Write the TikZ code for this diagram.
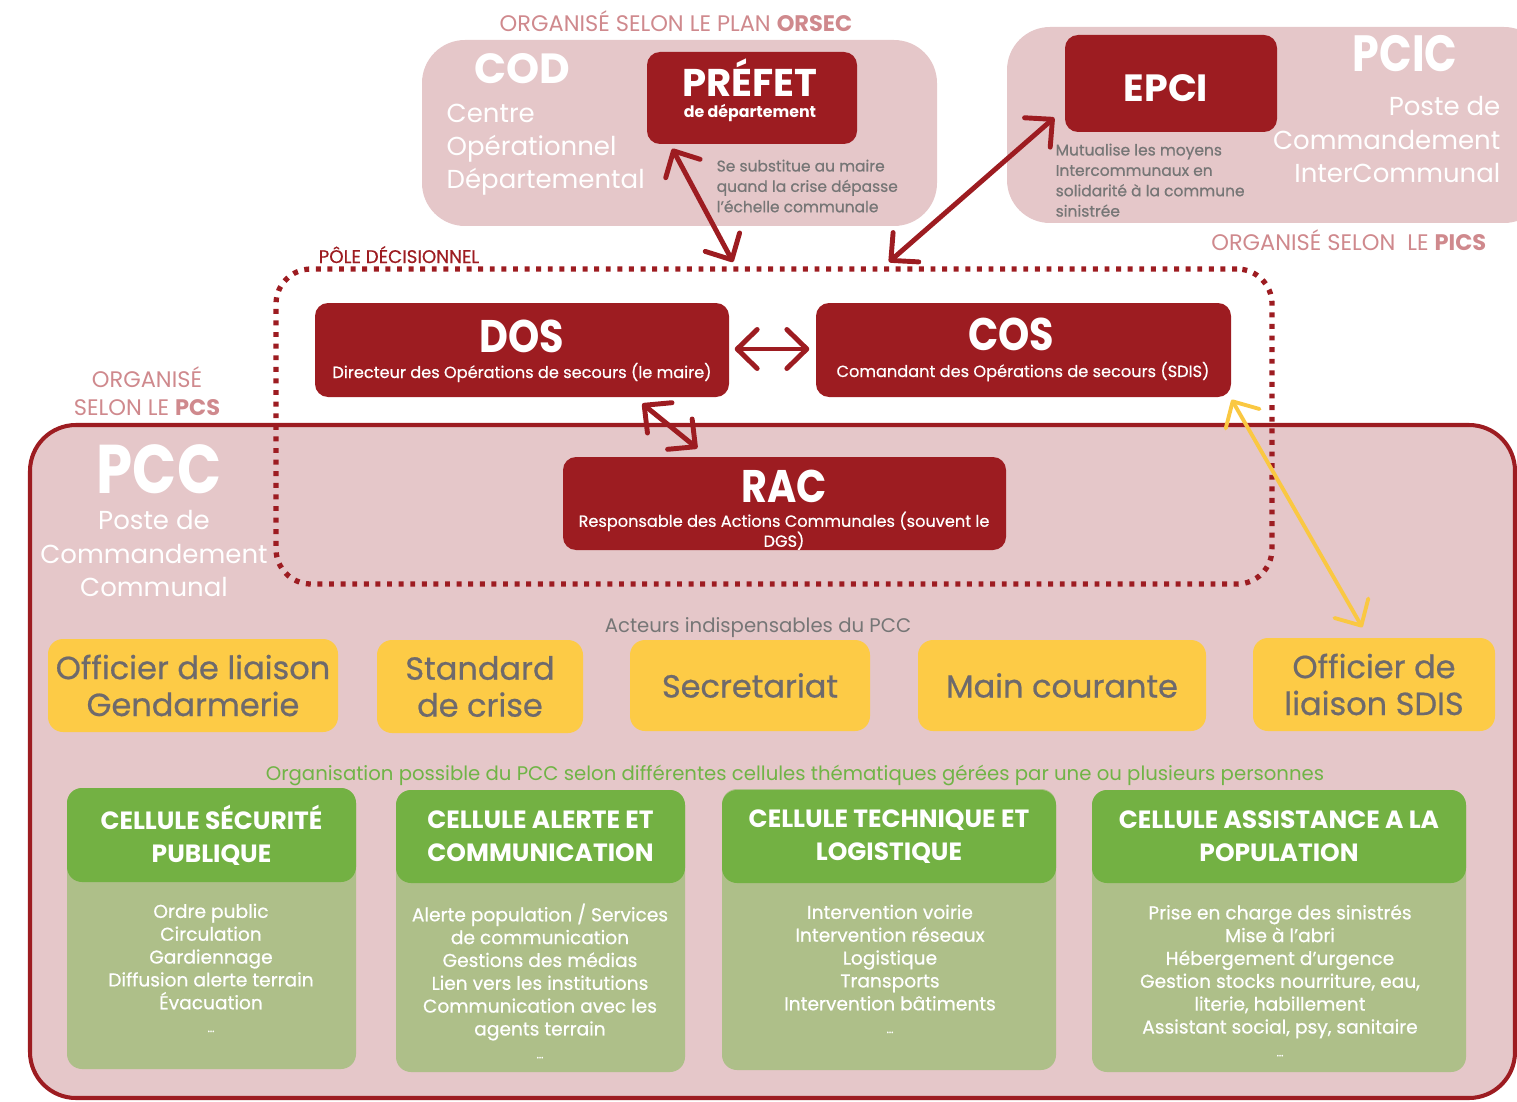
\documentclass[tikz,border=0pt]{standalone}
\usepackage{fontspec}
\setmainfont{Poppins}
\newfontfamily\tallfont[FakeStretch=0.84]{Poppins}
\newfontfamily\narrowfont[FakeStretch=0.87]{Poppins}
\newfontfamily\medfont[FakeBold=0.6]{Poppins}
\usepackage{tikz}
\usetikzlibrary{positioning,calc,arrows.meta}
\definecolor{PCSRed}{RGB}{157,28,33}
\definecolor{PCSPink}{RGB}{229,199,201}
\definecolor{TitlePink}{RGB}{207,137,141}
\definecolor{NoteGray}{RGB}{118,118,118}
\definecolor{CrisisYellow}{RGB}{253,203,70}
\definecolor{YellowText}{RGB}{110,106,108}
\definecolor{ArrowYellow}{RGB}{250,200,66}
\definecolor{CellGreen}{RGB}{115,177,67}
\definecolor{CellOlive}{RGB}{174,191,137}
\definecolor{TextGreen}{RGB}{112,180,70}
\newcommand{\setfs}[2]{\fontsize{#1}{#2}\selectfont}
\tikzset{
    zonebox/.style={rectangle, rounded corners=4.3mm, fill=PCSPink, inner sep=0pt},
    redbox/.style={rectangle, rounded corners=1.3mm, fill=PCSRed, text=white, inner sep=0pt},
    actorbox/.style={rectangle, rounded corners=1.5mm, fill=CrisisYellow, text=YellowText, align=center, inner sep=0pt, font=\medfont\setfs{9.1pt}{10.5pt}},
    cellbody/.style={rectangle, rounded corners=1.5mm, fill=CellOlive, inner sep=0pt},
    cellhead/.style={rectangle, rounded corners=1.5mm, fill=CellGreen, text=white, align=center, inner sep=0pt, font=\bfseries\setfs{7.1pt}{9.4pt}},
    link/.style={draw=PCSRed, line width=1.4pt, >={Straight Barb[round,length=2mm,width=3.9mm]}, <->}
}

\begin{document}
\begin{tikzpicture}[x=0.1mm, y=-0.1mm,
        % Textes posés sur leur ligne de base
        lbl/.style={inner sep=0pt, anchor=base},
        zonetag/.style={lbl, text=TitlePink, font=\setfs{6.4pt}{8pt}},
        zonetext/.style={inner sep=0pt, text=white, font=\setfs{7.4pt}{9.5pt}},
        notetext/.style={inner sep=0pt, text=NoteGray, font=\medfont\setfs{4.4pt}{5.8pt}},
        bigtag/.style={lbl, text=white, font=\narrowfont\bfseries\setfs{13pt}{13pt}},
        smalltag/.style={lbl, text=white, font=\medfont\setfs{4.6pt}{5.7pt}},
        celltext/.style={anchor=north, align=center, inner sep=0pt, text=white, font=\medfont\setfs{5.3pt}{6.5pt}}
    ]
    \useasboundingbox (0,0) rectangle (1517,1102);
    \clip (0,0) rectangle (1517,1102);

    % --- ZONES (COD, PCIC, PCC, pôle décisionnel) ---
    \node[zonebox, minimum width=51.5mm, minimum height=18.6mm] (cod) at (679.5,133) {};
    \node[zonebox, minimum width=54mm, minimum height=19.6mm] (pcic) at (1277,125) {};
    \node[zonebox, draw=PCSRed, line width=1.15pt, rounded corners=4.6mm,
          minimum width=148.5mm, minimum height=67.3mm] (pcc) at (772.5,761.5) {};
    \node[draw=PCSRed, line width=1.5pt, dash pattern=on 1.4pt off 1.9pt, rounded corners=3.5mm,
          minimum width=99.6mm, minimum height=31.5mm, inner sep=0pt] (pole) at (774,426.5) {};

    % --- COD + PRÉFET ---
    \node[zonetag] (orsec) at (676,32) {ORGANISÉ SELON LE PLAN \textbf{ORSEC}};
    \node[lbl, text=white, font=\bfseries\setfs{12pt}{12pt}] (codT) at (522,84) {COD};
    \node[zonetext, anchor=north west, align=left] (codS) at (446,103) {Centre\\Opérationnel\\Départemental};
    \node[redbox, minimum width=21mm, minimum height=9.2mm] (prefet) at (752,98) {};
    \node[lbl, text=white, font=\bfseries\setfs{11pt}{11pt}] (prefetT) at (750,97) {PRÉFET};
    \node[lbl, text=white, font=\bfseries\setfs{4.5pt}{5pt}] (prefetS) at (750,118) {de département};
    \node[notetext, anchor=north west, align=left] (prefetN) at (716,159) {Se substitue au maire\\quand la crise dépasse\\l’échelle communale};

    % --- PCIC + EPCI ---
    \node[redbox, minimum width=21.2mm, minimum height=9.7mm] (epci) at (1171,83.5) {};
    \node[lbl, text=white, font=\bfseries\setfs{10.8pt}{11pt}] (epciT) at (1166,102) {EPCI};
    \node[notetext, anchor=north west, align=left] (epciN) at (1055,143) {Mutualise les moyens\\Intercommunaux en\\solidarité à la commune\\sinistrée};
    \node[lbl, text=white, font=\tallfont\bfseries\setfs{14.5pt}{15pt}] (pcicT) at (1405,72) {PCIC};
    \node[zonetext, anchor=north east, align=right] (pcicS) at (1501,96) {Poste de\\Commandement\\InterCommunal};
    \node[zonetag, anchor=base east] (pics) at (1487,250) {ORGANISÉ SELON\ \ LE \textbf{PICS}};

    % --- PÔLE DÉCISIONNEL ---
    \node[lbl, anchor=base west, text=PCSRed, font=\medfont\setfs{5.2pt}{6pt}] (poleT) at (318,263) {PÔLE DÉCISIONNEL};
    \node[redbox, minimum width=41.4mm, minimum height=9.4mm] (dos) at (522,350) {};
    \node[bigtag] (dosT) at (522,352) {DOS};
    \node[smalltag] (dosS) at (522,378) {Directeur des Opérations de secours (le maire)};
    \node[redbox, minimum width=41.5mm, minimum height=9.4mm] (cos) at (1023.5,350) {};
    \node[bigtag] (cosT) at (1011,351) {COS};
    \node[smalltag] (cosS) at (1023,377) {Comandant des Opérations de secours (SDIS)};
    \node[redbox, minimum width=44.3mm, minimum height=9.3mm] (rac) at (784.5,503.5) {};
    \node[bigtag] (racT) at (784,502) {RAC};
    \node[smalltag, anchor=north, align=center] (racS) at (784,511) {Responsable des Actions Communales (souvent le\\DGS)};

    % --- PCC ---
    \node[zonetag, anchor=north, align=center] (pcs) at (147,366) {ORGANISÉ\\SELON LE \textbf{PCS}};
    \node[lbl, text=white, font=\tallfont\bfseries\setfs{19.6pt}{20pt}] (pccT) at (159,493) {PCC};
    \node[zonetext, anchor=north, align=center] (pccS) at (154,510) {Poste de\\Commandement\\Communal};

    % Acteurs indispensables
    \node[lbl, text=NoteGray, font=\setfs{5.6pt}{6pt}] (acteurs) at (758,632) {Acteurs indispensables du PCC};
    \node[actorbox, minimum width=29mm, minimum height=9.3mm] (gend) at (193,685.5) {Officier de liaison\\Gendarmerie};
    \node[actorbox, minimum width=20.6mm, minimum height=9.3mm] (std) at (480,686.5) {Standard\\de crise};
    \node[actorbox, minimum width=24mm, minimum height=9.1mm] (secr) at (750,685.5) {Secretariat};
    \node[actorbox, minimum width=28.8mm, minimum height=9.1mm] (mainc) at (1062,685.5) {Main courante};
    \node[actorbox, minimum width=24.2mm, minimum height=9.3mm] (sdis) at (1374,684.5) {Officier de\\liaison SDIS};

    % Cellules thématiques
    \node[lbl, text=TextGreen, font=\setfs{5.6pt}{6pt}] (orga) at (795,780) {Organisation possible du PCC selon différentes cellules thématiques gérées par une ou plusieurs personnes};
    \node[cellbody, minimum width=28.9mm, minimum height=28.1mm] (secu) at (211.5,928.5) {};
    \node[cellhead, minimum width=28.9mm, minimum height=9.4mm] (secuH) at (211.5,835) {CELLULE SÉCURITÉ\\PUBLIQUE};
    \node[celltext] (secuL) at (211,903) {Ordre public\\Circulation\\Gardiennage\\Diffusion alerte terrain\\Évacuation\\{\setfs{3.4pt}{6.5pt}…}};
    \node[cellbody, minimum width=28.9mm, minimum height=28.2mm] (alrt) at (540.5,931) {};
    \node[cellhead, minimum width=28.9mm, minimum height=9.3mm] (alrtH) at (540.5,836.5) {CELLULE ALERTE ET\\COMMUNICATION};
    \node[celltext] (alrtL) at (540,903) {Alerte population / Services\\de communication\\Gestions des médias\\Lien vers les institutions\\Communication avec les\\agents terrain\\{\setfs{3.4pt}{6.5pt}…}};
    \node[cellbody, minimum width=33.4mm, minimum height=28.1mm] (tech) at (889,929.5) {};
    \node[cellhead, minimum width=33.4mm, minimum height=9.3mm] (techH) at (889,836.5) {CELLULE TECHNIQUE ET\\LOGISTIQUE};
    \node[celltext] (techL) at (890,904) {Intervention voirie\\Intervention réseaux\\Logistique\\Transports\\Intervention bâtiments\\{\setfs{3.4pt}{6.5pt}…}};
    \node[cellbody, minimum width=37.4mm, minimum height=28.2mm] (asst) at (1279,931) {};
    \node[cellhead, minimum width=37.4mm, minimum height=9.3mm] (asstH) at (1279,836.5) {CELLULE ASSISTANCE A LA\\POPULATION};
    \node[celltext] (asstL) at (1280,904) {Prise en charge des sinistrés\\Mise à l’abri\\Hébergement d’urgence\\Gestion stocks nourriture, eau,\\literie, habillement\\Assistant social, psy, sanitaire\\{\setfs{3.4pt}{6.5pt}…}};

    % --- FLÈCHES ---
    \coordinate (poleP) at (733,262);
    \coordinate (poleE) at (889,262);
    \draw[link] ($(prefet.south west)+(26,4)$) -- (poleP);
    \draw[link] ($(epci.south west)+(-10,-15)$) -- (poleE);
    \draw[link] ($(dos.east)+(5,-1)$) -- ($(cos.west)+(-6,-1)$);
    \draw[link] ($(dos.south west)+(328,6)$) -- ($(rac.north west)+(135,-8)$);
    \draw[link, draw=ArrowYellow, line width=1.1pt] ($(cos.south east)+(0,2)$) -- ($(sdis.north west)+(110,-10)$);

\end{tikzpicture}
\end{document}
